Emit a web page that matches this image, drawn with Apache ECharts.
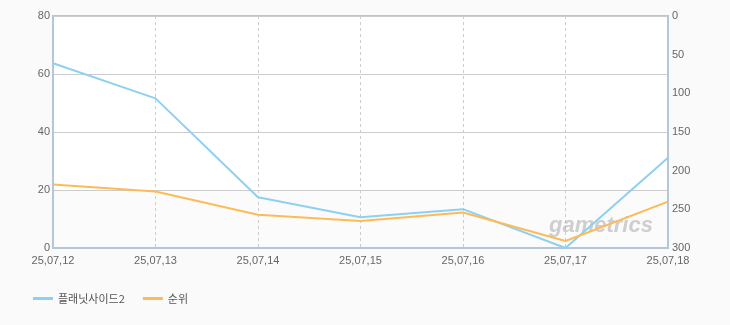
<!DOCTYPE html>
<html><head><meta charset="utf-8">
<script src="https://cdn.jsdelivr.net/npm/echarts@6/dist/echarts.min.js"></script>
<style>html,body{margin:0;padding:0;background:#fafafa;}#c{width:730px;height:325px;}</style>
</head><body><div id="c"></div>
<script>
const categories = ['25,07,12','25,07,13','25,07,14','25,07,15','25,07,16','25,07,17','25,07,18'];
const seriesNames = ['플래닛사이드2','순위'];
const valuesGame = [63.7, 51.6, 17.5, 10.6, 13.4, 0, 31.1];
const valuesRank = [218, 227, 257, 265, 254, 291, 240];
const leftTicks = [0, 20, 40, 60, 80];
const rightTicks = [0, 50, 100, 150, 200, 250, 300];

const chart = echarts.init(document.getElementById('c'), null, {renderer:'canvas'});
const font = 'Liberation Sans, DejaVu Sans, sans-serif';
chart.setOption({
  backgroundColor: '#fafafa',
  animation: false,
  grid: {left: 53, right: 62, top: 16, bottom: 77, show: true, backgroundColor: '#ffffff', borderColor: '#b3c6da', borderWidth: 2},
  legend: {
    left: 28, bottom: 16, itemWidth: 20, itemHeight: 3, itemGap: 18, icon: 'rect',
    textStyle: {color: '#555', fontSize: 11, fontFamily: 'Noto Sans CJK KR'},
    data: seriesNames
  },
  xAxis: {
    type: 'category', boundaryGap: false, data: categories,
    axisLine: {lineStyle: {color: '#b3c6da', width: 2}},
    axisTick: {show: false},
    axisLabel: {color: '#666', fontSize: 11, fontFamily: font, margin: 7},
    splitLine: {show: true, lineStyle: {color: '#cccccc', type: [3,3], width: 1}}
  },
  yAxis: [{
    type: 'value', min: leftTicks[0], max: leftTicks[leftTicks.length-1], interval: 20,
    axisLine: {show: true, lineStyle: {color: '#b3c6da', width: 2}},
    axisTick: {show: false},
    axisLabel: {color: '#666', fontSize: 11, fontFamily: font, margin: 3},
    splitLine: {lineStyle: {color: '#cccccc', width: 1}},
    splitArea: {show: true, areaStyle: {color: ['#fbfbfb', '#ffffff', '#ffffff', '#ffffff']}}
  }, {
    type: 'value', inverse: true, min: rightTicks[0], max: rightTicks[rightTicks.length-1], interval: 50,
    position: 'right',
    axisLine: {show: true, lineStyle: {color: '#b3c6da', width: 2}},
    axisTick: {show: false},
    axisLabel: {color: '#666', fontSize: 11, fontFamily: font, margin: 4},
    splitLine: {show: false}
  }],
  graphic: [{
    type: 'text', left: 549, top: 215, z: 1, silent: true,
    style: {text: 'gametrics', fill: 'rgba(150,150,150,0.45)', fontSize: 22, fontStyle: 'italic', fontWeight: 'bold', fontFamily: 'Liberation Sans'}
  }],
  series: [{
    name: seriesNames[0], type: 'line', yAxisIndex: 0, data: valuesGame, z: 3,
    symbol: 'none', lineStyle: {color: '#8ed0f2', width: 2}, itemStyle: {color: '#8ed0f2'}
  }, {
    name: seriesNames[1], type: 'line', yAxisIndex: 1, data: valuesRank, z: 3,
    symbol: 'none', lineStyle: {color: '#fdbb58', width: 2}, itemStyle: {color: '#fdbb58'}
  }]
});
</script></body></html>
